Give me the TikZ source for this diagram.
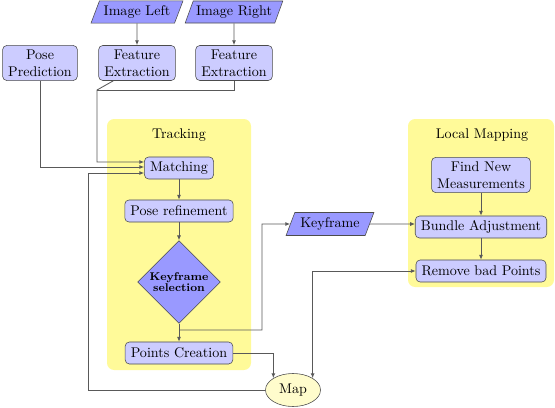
\documentclass[tikz,border=0pt]{standalone}
\usepackage{tikz}
\usetikzlibrary{arrows.meta,calc,positioning,shapes.geometric}
\tikzset{
  procbox/.style={draw=black!70, fill=blue!20, rounded corners=3pt, align=center, inner xsep=4pt, inner ysep=3pt, minimum height=0.55cm},
  iobox/.style={draw=black!70, fill=blue!40, trapezium, trapezium left angle=70, trapezium right angle=110, trapezium stretches=true, minimum height=0.5cm, inner xsep=2pt},
  decisionbox/.style={draw=black!70, fill=blue!40, diamond, align=center, inner sep=1pt, minimum width=1.95cm, minimum height=1.9cm, font=\footnotesize\bfseries},
  mapnode/.style={draw=black!70, fill=yellow!20, ellipse, minimum width=1.375cm, minimum height=0.825cm},
  groupbox/.style={fill=yellow!40, rounded corners=5pt},
  arrow/.style={-{Latex[length=1.2mm, width=1mm]}, black!65, semithick},
  biarrow/.style={{Latex[length=1.2mm, width=1mm]}-{Latex[length=1.2mm, width=1mm]}, black!65, semithick},
  line/.style={black!65, semithick}
}
\begin{document}
\begin{tikzpicture}[x=0.025cm, y=-0.025cm]
  \useasboundingbox (0,0) rectangle (555,408);
  % background groups
  \fill[groupbox] (107,119) rectangle (251,370);
  \fill[groupbox] (408,119) rectangle (554,287);
  \node (trk) at (179,135) {Tracking};
  \node (lmap) at (482,135) {Local Mapping};

  % inputs
  \node[iobox, minimum width=2.3cm] (imgl) at (137,12) {Image Left};
  \node[iobox, minimum width=2.3cm] (imgr) at (234,12) {Image Right};
  \node[procbox] (pose) at (40,63) {Pose\\Prediction};
  \node[procbox] (fe1) at (137,63) {Feature\\Extraction};
  \node[procbox] (fe2) at (234,63) {Feature\\Extraction};

  % tracking
  \node[procbox] (match) at (179,168) {Matching};
  \node[procbox] (pref) at (179,211) {Pose refinement};
  \node[decisionbox] (kfsel) at (179,282) {Keyframe\\[-2pt]selection};
  \node[procbox] (pcreate) at (179,353) {Points Creation};
  \node[mapnode] (map) at (293,390) {Map};
  \node[iobox, minimum width=2.2cm, minimum height=0.575cm] (kf) at (330,224) {Keyframe};

  % local mapping
  \node[procbox] (fnm) at (481,175) {Find New\\Measurements};
  \node[procbox] (ba) at (481,227) {Bundle Adjustment};
  \node[procbox] (rbp) at (481,271) {Remove bad Points};

  \coordinate (fejoin) at (97,90);
  \coordinate (mapback) at (88,390);
  \coordinate (kfsplit) at (179,330);
  \coordinate (kfturn) at (262,224);

  \draw[arrow] (imgl) -- (fe1);
  \draw[arrow] (imgr) -- (fe2);
  \draw[arrow] (pose.south) |- ($(match.west)+(0,-1)$);
  \draw[arrow] ($(fe1.south west)+(15,0)$) -- (fejoin) |- ($(match.west)+(0,-6)$);
  \draw[line] (fe2.south) |- (fejoin);
  \draw[arrow] (map.west) -- (mapback) |- ($(match.west)+(0,5)$);
  \draw[arrow] (match) -- (pref);
  \draw[arrow] (pref) -- (kfsel);
  \draw[arrow] (kfsel) -- (pcreate);
  \draw[arrow] (kfsplit) -| (kfturn) -- (kf.west);
  \draw[arrow] (kf) -- (kf -| ba.west);
  \draw[arrow] (pcreate.east) -| (map.north west);
  \draw[biarrow] (rbp.west) -| (map.north east);
  \draw[arrow] (fnm) -- (ba);
  \draw[arrow] (ba) -- (rbp);
\end{tikzpicture}
\end{document}
